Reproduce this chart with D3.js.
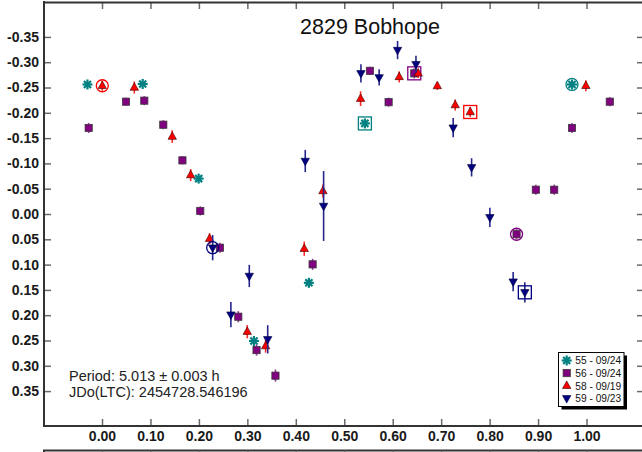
<!DOCTYPE html>
<html>
<head>
<meta charset="utf-8">
<script src="https://cdn.jsdelivr.net/npm/d3@7"></script>
<style>
  html, body { margin: 0; padding: 0; background: #fff; }
  svg { display: block; font-family: "Liberation Sans", Arial, sans-serif; }
</style>
</head>
<body>
<svg id="chart" width="642" height="452"></svg>
<script>
// Lightcurve of 2829 Bobhope, phased to P = 5.013 h
const xTicks = [0, 0.1, 0.2, 0.3, 0.4, 0.5, 0.6, 0.7, 0.8, 0.9, 1.0];
const yTicks = [-0.35, -0.30, -0.25, -0.20, -0.15, -0.10, -0.05, 0, 0.05, 0.10, 0.15, 0.20, 0.25, 0.30, 0.35];

// Session 55 - 09/24
const phase55 = [-0.030, 0.084, 0.1995, 0.3136, 0.427, 0.5426, 0.970];
const mag55   = [-0.256, -0.257, -0.070, 0.251, 0.136, -0.179, -0.256];
const err55   = [0.004, 0.004, 0.004, 0.004, 0.004, 0.004, 0.004];

// Session 56 - 09/24
const phase56 = [-0.0275, 0.0495, 0.0873, 0.1265, 0.166, 0.2028, 0.2434, 0.2813, 0.319, 0.358,
                 0.4347, 0.553, 0.5915, 0.6445, 0.8556, 0.8954, 0.9333, 0.970, 1.048];
const mag56   = [-0.170, -0.222, -0.224, -0.1765, -0.106, -0.006, 0.0666, 0.203, 0.269, 0.3195,
                 0.0995, -0.283, -0.221, -0.278, 0.040, -0.048, -0.048, -0.170, -0.222];
const err56   = [0.010, 0.008, 0.009, 0.009, 0.008, 0.009, 0.010, 0.011, 0.011, 0.012,
                 0.011, 0.008, 0.009, 0.010, 0.010, 0.010, 0.010, 0.010, 0.009];

// Session 58 - 09/19
const phase58 = [0.0006, 0.0667, 0.145, 0.183, 0.222, 0.2998, 0.3377, 0.4174, 0.456, 0.5337,
                 0.6134, 0.6526, 0.692, 0.729, 0.760, 0.9986];
const mag58   = [-0.2535, -0.250, -0.153, -0.077, 0.0488, 0.2325, 0.261, 0.0686, -0.0455, -0.228,
                 -0.271, -0.278, -0.253, -0.2154, -0.2016, -0.2535];
const err58   = [0.010, 0.012, 0.0125, 0.012, 0.011, 0.013, 0.013, 0.014, 0.013, 0.0145,
                 0.011, 0.009, 0.008, 0.011, 0.010, 0.011];

// Session 59 - 09/23
const phase59 = [0.2284, 0.266, 0.304, 0.342, 0.4195, 0.4574, 0.5344, 0.572, 0.610, 0.648,
                 0.7248, 0.7628, 0.8005, 0.8486, 0.8727];
const mag59   = [0.0666, 0.199, 0.1225, 0.2477, -0.1047, -0.0158, -0.278, -0.270, -0.324, -0.296,
                 -0.1706, -0.0922, 0.0065, 0.1337, 0.1548];
const err59   = [0.025, 0.025, 0.022, 0.028, 0.022, 0.069, 0.018, 0.016, 0.018, 0.017,
                 0.019, 0.018, 0.019, 0.019, 0.020];

const sessions = [
  { label: "55 - 09/24", phase: phase55, mag: mag55, err: err55, symbol: "star",  color: "#008080", bar: "#008080", first: 6, last: 5 },
  { label: "56 - 09/24", phase: phase56, mag: mag56, err: err56, symbol: "square", color: "#800080", bar: "#9a3a9a", first: 14, last: 13 },
  { label: "58 - 09/19", phase: phase58, mag: mag58, err: err58, symbol: "up",    color: "#ff0000", bar: "#ff2a2a", first: 0, last: 14 },
  { label: "59 - 09/23", phase: phase59, mag: mag59, err: err59, symbol: "down",  color: "#000080", bar: "#26268c", first: 0, last: 14 }
];

const svg = d3.select("#chart");
const L = 44, R = 642, T = 2, B = 426;

const x = d3.scaleLinear().domain([-0.1197, 1.1145]).range([L, R]);
const y = d3.scaleLinear().domain([-0.419, 0.419]).range([T, B]);

const fmt = d => d3.format(".2f")(d).replace("\u2212", "-");

function styleAxis(g, showLabels) {
  g.select(".domain").remove();
  g.selectAll(".tick line").attr("stroke", "#6a6a6a").attr("stroke-width", 1.5);
  if (showLabels) {
    g.selectAll(".tick text")
      .attr("fill", "#1a1a1a")
      .style("font-size", "14px")
      .style("font-weight", "bold");
  } else {
    g.selectAll(".tick text").remove();
  }
}

// Bottom axis with labels
svg.append("g").attr("transform", `translate(0,${B})`)
  .call(d3.axisBottom(x).tickValues(xTicks).tickSizeInner(-7).tickSizeOuter(0).tickPadding(5).tickFormat(fmt))
  .call(g => styleAxis(g, true));

// Top axis ticks
svg.append("g").attr("transform", `translate(0,${T})`)
  .call(d3.axisTop(x).tickValues(xTicks).tickSizeInner(-7).tickSizeOuter(0))
  .call(g => styleAxis(g, false));

// Left axis with labels
svg.append("g").attr("transform", `translate(${L},0)`)
  .call(d3.axisLeft(y).tickValues(yTicks).tickSizeInner(-7).tickSizeOuter(0).tickPadding(5).tickFormat(fmt))
  .call(g => styleAxis(g, true));

// Right axis ticks
svg.append("g").attr("transform", `translate(644,0)`)
  .call(d3.axisRight(y).tickValues(yTicks).tickSizeInner(-7).tickSizeOuter(0))
  .call(g => styleAxis(g, false));

// Frame lines
const frame = svg.append("g").attr("stroke", "#333").attr("stroke-width", 2).attr("fill", "none");
frame.append("line").attr("x1", L).attr("x2", L).attr("y1", T - 1).attr("y2", B + 1);
frame.append("line").attr("x1", L - 1).attr("x2", R).attr("y1", T + 0.5).attr("y2", T + 0.5);
frame.append("line").attr("x1", L - 1).attr("x2", R).attr("y1", B).attr("y2", B);

// Top edge of the panel below
const below = 450.5;
frame.append("line").attr("x1", L - 1).attr("x2", R).attr("y1", below).attr("y2", below);
frame.append("line").attr("x1", L).attr("x2", L).attr("y1", below).attr("y2", 460);
svg.append("g").attr("transform", `translate(0,${below})`)
  .call(d3.axisBottom(x).tickValues(xTicks).tickSizeInner(7).tickSizeOuter(0))
  .call(g => styleAxis(g, false));

// Title
svg.append("text").attr("x", 370).attr("y", 34).attr("text-anchor", "middle")
  .style("font-size", "21.5px").attr("fill", "#111").text("2829 Bobhope");

// Period annotation
svg.append("text").attr("x", 69).attr("y", 381).style("font-size", "14.5px").attr("fill", "#222")
  .text("Period: 5.013 \u00b1 0.003 h");
svg.append("text").attr("x", 69).attr("y", 396.5).style("font-size", "14.5px").attr("fill", "#222")
  .text("JDo(LTC): 2454728.546196");

// Marker drawing
function drawSymbol(g, type, color, cx, cy) {
  if (type === "star") {
    const r = 5;
    [0, 45, 90, 135].forEach(a => {
      const rad = a * Math.PI / 180;
      g.append("line")
        .attr("x1", cx - r * Math.cos(rad)).attr("y1", cy - r * Math.sin(rad))
        .attr("x2", cx + r * Math.cos(rad)).attr("y2", cy + r * Math.sin(rad))
        .attr("stroke", color).attr("stroke-width", 2.2);
    });
  } else if (type === "square") {
    g.append("rect").attr("x", cx - 3.6).attr("y", cy - 3.6).attr("width", 7.2).attr("height", 7.2)
      .attr("fill", color).attr("stroke", "#3a3a3a").attr("stroke-width", 0.8);
  } else if (type === "up") {
    const h = 7.5, w = 4.2;
    g.append("path")
      .attr("d", `M${cx},${cy - h / 2 - 1}L${cx + w},${cy + h / 2 - 1}L${cx - w},${cy + h / 2 - 1}Z`)
      .attr("fill", color).attr("stroke", "#300").attr("stroke-width", 0.6);
  } else {
    const h = 7.5, w = 4.2;
    g.append("path")
      .attr("d", `M${cx - w},${cy - h / 2 + 1}L${cx + w},${cy - h / 2 + 1}L${cx},${cy + h / 2 + 1}Z`)
      .attr("fill", color).attr("stroke", "#000040").attr("stroke-width", 0.6);
  }
}

const plot = svg.append("g");
sessions.forEach(s => {
  const g = plot.append("g");
  const pts = s.phase.map((p, i) => ({ p, m: s.mag[i], e: s.err[i], i }));
  // error bars
  g.selectAll("line.err").data(pts).join("line").attr("class", "err")
    .attr("x1", d => x(d.p)).attr("x2", d => x(d.p))
    .attr("y1", d => y(d.m - d.e)).attr("y2", d => y(d.m + d.e))
    .attr("stroke", s.bar).attr("stroke-width", 1.6);
  // markers
  pts.forEach(d => drawSymbol(g, s.symbol, s.color, x(d.p), y(d.m)));
  // first point of the session circled, last point boxed
  const f = pts[s.first], l = pts[s.last];
  g.append("circle").attr("cx", x(f.p)).attr("cy", y(f.m)).attr("r", 6)
    .attr("fill", "none").attr("stroke", s.color).attr("stroke-width", 1.3);
  g.append("rect").attr("x", x(l.p) - 6.5).attr("y", y(l.m) - 6.5).attr("width", 13).attr("height", 13)
    .attr("fill", "none").attr("stroke", s.color).attr("stroke-width", 1.3);
});

// Legend
const lg = svg.append("g").attr("transform", "translate(558.5,352.5)");
lg.append("rect").attr("x", 3).attr("y", 3).attr("width", 65.5).attr("height", 54).attr("fill", "#000");
lg.append("rect").attr("x", 0).attr("y", 0).attr("width", 65.5).attr("height", 54)
  .attr("fill", "#fff").attr("stroke", "#000").attr("stroke-width", 1);
sessions.forEach((s, i) => {
  const cy = 8 + i * 12.6;
  const row = lg.append("g");
  drawSymbol(row, s.symbol, s.color, 8.2, cy);
  row.append("text").attr("x", 16.8).attr("y", cy + 3.8).style("font-size", "10.2px").attr("fill", "#111")
    .text(s.label);
});
</script>
</body>
</html>
